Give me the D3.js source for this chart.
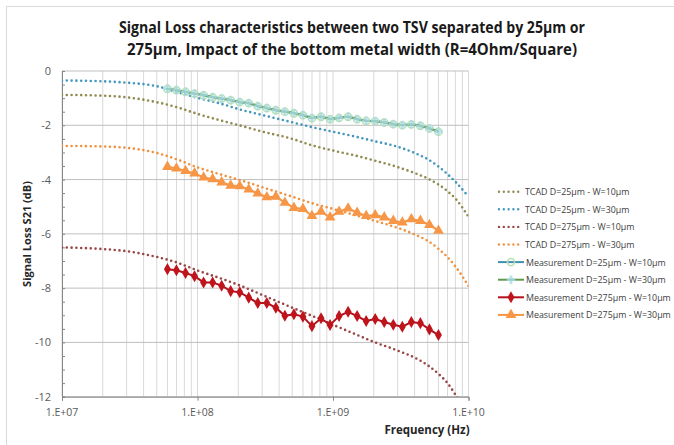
<!DOCTYPE html>
<html>
<head>
<meta charset="utf-8">
<script src="https://cdn.jsdelivr.net/npm/d3@7"></script>
<style>
  body { margin: 0; background: #fff; }
  text { font-family: "Open Sans", "Noto Sans", sans-serif; }
</style>
</head>
<body>
<svg id="chart"></svg>
<script>
// Frequencies (Hz) of the measured points
const freqMeas = [6.00e7, 6.99e7, 8.16e7, 9.51e7, 1.109e8, 1.293e8, 1.507e8, 1.757e8, 2.049e8, 2.389e8,
  2.785e8, 3.247e8, 3.786e8, 4.414e8, 5.146e8, 6.00e8, 6.99e8, 8.16e8, 9.51e8, 1.109e9,
  1.293e9, 1.507e9, 1.757e9, 2.049e9, 2.389e9, 2.785e9, 3.247e9, 3.786e9, 4.414e9, 5.146e9, 6.00e9];

const measD25W10 = [-0.66, -0.71, -0.77, -0.84, -0.90, -0.97, -1.02, -1.08, -1.15, -1.19,
  -1.30, -1.37, -1.45, -1.50, -1.56, -1.63, -1.74, -1.69, -1.78, -1.73,
  -1.69, -1.78, -1.84, -1.85, -1.90, -1.96, -2.00, -1.97, -2.02, -2.12, -2.24];
const measD25W30 = [-0.65, -0.70, -0.76, -0.83, -0.88, -0.96, -1.01, -1.07, -1.14, -1.18,
  -1.29, -1.36, -1.44, -1.49, -1.55, -1.62, -1.73, -1.68, -1.77, -1.72,
  -1.68, -1.77, -1.83, -1.84, -1.89, -1.95, -1.99, -1.96, -2.02, -2.11, -2.23];
const measD275W10 = [-7.30, -7.34, -7.44, -7.56, -7.79, -7.79, -7.91, -8.11, -8.15, -8.35,
  -8.55, -8.55, -8.72, -9.02, -8.96, -9.05, -9.40, -9.11, -9.36, -9.03,
  -8.87, -9.03, -9.21, -9.14, -9.25, -9.35, -9.42, -9.25, -9.29, -9.52, -9.73];
const measD275W30 = [-3.53, -3.59, -3.68, -3.77, -3.92, -3.98, -4.10, -4.22, -4.24, -4.36,
  -4.51, -4.65, -4.63, -4.85, -5.04, -5.08, -5.34, -5.18, -5.39, -5.18,
  -5.06, -5.22, -5.34, -5.31, -5.39, -5.52, -5.58, -5.46, -5.52, -5.67, -5.88];

// TCAD simulated curves
const freqTcad = [1e7, 2e7, 3e7, 5e7, 7e7, 1e8, 1.5e8, 2e8, 3e8, 5e8, 7e8,
  1e9, 1.5e9, 2e9, 3e9, 4e9, 5e9, 6e9, 7e9, 8e9, 1e10];
const tcadD25W10 = [-0.88, -0.91, -0.97, -1.15, -1.33, -1.58, -1.83, -1.99, -2.23, -2.50, -2.74,
  -2.93, -3.13, -3.29, -3.54, -3.76, -3.96, -4.18, -4.43, -4.70, -5.37];
const tcadD25W30 = [-0.35, -0.38, -0.43, -0.56, -0.77, -0.99, -1.21, -1.40, -1.62, -1.89, -2.07,
  -2.24, -2.43, -2.58, -2.79, -3.02, -3.25, -3.52, -3.80, -4.08, -4.63];
const tcadD275W10 = [-6.50, -6.56, -6.64, -6.85, -7.05, -7.35, -7.65, -7.88, -8.25, -8.72, -9.02,
  -9.35, -9.72, -9.98, -10.30, -10.56, -10.84, -11.16, -11.50, -11.92, -12.70];
const tcadD275W30 = [-2.76, -2.78, -2.83, -3.02, -3.25, -3.55, -3.82, -4.00, -4.28, -4.63, -4.87,
  -5.08, -5.33, -5.51, -5.78, -6.02, -6.26, -6.55, -6.86, -7.20, -7.92];

const yTicks = [0, -2, -4, -6, -8, -10, -12];
const xTicks = [1e7, 1e8, 1e9, 1e10];
const xTickLabels = ["1.E+07", "1.E+08", "1.E+09", "1.E+10"];

const width = 674, height = 445;
const svg = d3.select("#chart").attr("width", width).attr("height", height);

// chart frame
svg.append("rect")
    .attr("x", 6.5).attr("y", 6.5)
    .attr("width", 700).attr("height", 500)
    .attr("fill", "none").attr("stroke", "#d9d9d9");

const x = d3.scaleLog().domain([1e7, 1e10]).range([62, 468.5]);
const y = d3.scaleLinear().domain([-12, 0]).range([396.7, 71]);

// vertical grid, every 1..9 of each decade
const vGrid = [];
[1e7, 1e8, 1e9].forEach(d => { for (let k = 1; k < 10; k++) vGrid.push(d * k); });
vGrid.push(1e10);
svg.append("g").selectAll("line").data(vGrid).enter().append("line")
    .attr("x1", d => x(d)).attr("x2", d => x(d))
    .attr("y1", y(0)).attr("y2", y(-12))
    .attr("stroke", "#d9d9d9").attr("stroke-width", 1);

// horizontal grid
svg.append("g").selectAll("line").data(yTicks).enter().append("line")
    .attr("x1", x(1e7)).attr("x2", x(1e10))
    .attr("y1", d => y(d)).attr("y2", d => y(d))
    .attr("stroke", "#bfbfbf").attr("stroke-width", 1);

// axes
const yAxis = svg.append("g").attr("transform", `translate(${x(1e7)},0)`)
    .call(d3.axisLeft(y).tickValues(d3.range(-12, 0.01, 0.5)).tickSize(-3).tickFormat(""));
yAxis.select(".domain").attr("stroke", "#868686");
yAxis.selectAll(".tick line").attr("stroke", "#868686");

const xAxis = svg.append("g").attr("transform", `translate(0,${y(-12)})`)
    .call(d3.axisBottom(x).tickValues(xTicks).tickSize(4).tickFormat(""));
xAxis.select(".domain").attr("stroke", "#868686");
xAxis.selectAll(".tick line").attr("stroke", "#868686");

svg.append("g").selectAll("text").data(yTicks).enter().append("text")
    .attr("x", 51).attr("y", d => y(d) + 4)
    .attr("text-anchor", "end")
    .attr("font-size", 11).attr("fill", "#595959")
    .text(d => d === 0 ? "0" : "-" + Math.abs(d));

svg.append("g").selectAll("text").data(xTicks).enter().append("text")
    .attr("x", d => x(d)).attr("y", 416)
    .attr("text-anchor", "middle")
    .attr("font-size", 10.5).attr("fill", "#595959")
    .text((d, i) => xTickLabels[i]);

// axis titles
svg.append("text")
    .attr("x", 427).attr("y", 434)
    .attr("text-anchor", "middle")
    .attr("font-size", 11.5).attr("font-weight", "bold").attr("fill", "#262626")
    .text("Frequency (Hz)");

svg.append("text")
    .attr("transform", `translate(31,234) rotate(-90)`)
    .attr("text-anchor", "middle")
    .attr("font-size", 11).attr("font-weight", "bold").attr("fill", "#262626")
    .text("Signal Loss S21 (dB)");

// title
const titleLines = ["Signal Loss characteristics between two TSV separated by 25µm or",
  "275µm, Impact of the bottom metal width (R=4Ohm/Square)"];
const titleWidths = [466, 450];
svg.append("g").selectAll("text").data(titleLines).enter().append("text")
    .attr("x", 352).attr("y", (d, i) => 33 + i * 22)
    .attr("text-anchor", "middle")
    .attr("font-size", 15.5).attr("font-weight", "bold").attr("fill", "#1a1a1a")
    .attr("textLength", (d, i) => titleWidths[i])
    .attr("lengthAdjust", "spacingAndGlyphs")
    .text(d => d);

// clip to plot area
svg.append("clipPath").attr("id", "plot")
  .append("rect").attr("x", x(1e7)).attr("y", y(0))
    .attr("width", x(1e10) - x(1e7)).attr("height", y(-12) - y(0));

const tcadLine = d3.line()
    .x((d, i) => x(freqTcad[i]))
    .y(d => y(d))
    .curve(d3.curveMonotoneX);
const measLine = d3.line()
    .x((d, i) => x(freqMeas[i]))
    .y(d => y(d));

const tcad = [
  { name: "TCAD D=25µm - W=10µm", values: tcadD25W10, color: "#8f8b50" },
  { name: "TCAD D=25µm - W=30µm", values: tcadD25W30, color: "#4597bd" },
  { name: "TCAD D=275µm - W=10µm", values: tcadD275W10, color: "#9a4646" },
  { name: "TCAD D=275µm - W=30µm", values: tcadD275W30, color: "#f0913f" }
];
const meas = [
  { name: "Measurement D=25µm - W=10µm", values: measD25W10, color: "#3f8fb3", marker: "circle", mcolor: "#b9e2b0" },
  { name: "Measurement D=25µm - W=30µm", values: measD25W30, color: "#5e9a4a", marker: "cross", mcolor: "#a9dbe6" },
  { name: "Measurement D=275µm - W=10µm", values: measD275W10, color: "#b2121b", marker: "diamond", mcolor: "#c0141c" },
  { name: "Measurement D=275µm - W=30µm", values: measD275W30, color: "#f4953f", marker: "triangle", mcolor: "#f79646" }
];

const plot = svg.append("g").attr("clip-path", "url(#plot)");

tcad.forEach(s => {
  plot.append("path")
      .attr("d", tcadLine(s.values))
      .attr("fill", "none")
      .attr("stroke", s.color)
      .attr("stroke-width", 2.6)
      .attr("stroke-linecap", "round")
      .attr("stroke-dasharray", "0,4.8");
});

const symbolType = { circle: d3.symbolCircle, cross: d3.symbolCross, diamond: d3.symbolDiamond, triangle: d3.symbolTriangle };
const symbolSize = { circle: 40, cross: 40, diamond: 42, triangle: 50 };

function drawMarker(g, s, cx, cy) {
  const p = g.append("path")
      .attr("d", d3.symbol().type(symbolType[s.marker]).size(symbolSize[s.marker])())
      .attr("transform", `translate(${cx},${cy})`);
  if (s.marker === "circle") {
    p.attr("fill", "none").attr("stroke", s.mcolor).attr("stroke-width", 1.5);
  } else if (s.marker === "cross") {
    p.attr("fill", s.mcolor).attr("opacity", 0.8);
  } else {
    p.attr("fill", s.mcolor);
  }
}

meas.forEach(s => {
  plot.append("path")
      .attr("d", measLine(s.values))
      .attr("fill", "none")
      .attr("stroke", s.color)
      .attr("stroke-width", 2);
  const mg = plot.append("g");
  s.values.forEach((v, i) => drawMarker(mg, s, x(freqMeas[i]), y(v)));
});

// legend
const legend = svg.append("g");
const rowY = d3.range(8).map(i => 191.7 + i * 17.6);
tcad.forEach((s, i) => {
  legend.append("line")
      .attr("x1", 499).attr("x2", 523).attr("y1", rowY[i]).attr("y2", rowY[i])
      .attr("stroke", s.color).attr("stroke-width", 2.4)
      .attr("stroke-linecap", "round").attr("stroke-dasharray", "0,4.8");
});
meas.forEach((s, i) => {
  const yy = rowY[i + 4];
  legend.append("line")
      .attr("x1", 498).attr("x2", 524).attr("y1", yy).attr("y2", yy)
      .attr("stroke", s.color).attr("stroke-width", 2);
  drawMarker(legend, s, 511, yy);
});
const labels = legend.selectAll("text.lab")
    .data(tcad.concat(meas)).enter().append("text")
    .attr("class", "lab")
    .attr("x", (d, i) => i < 4 ? 525 : 526)
    .attr("y", (d, i) => rowY[i] + 3.5)
    .attr("font-size", 10).attr("fill", "#404040")
    .text(d => d.name);
// shrink the font so the longest label ends where it does in the original
const longest = d3.max(labels.nodes(), n => n.getComputedTextLength());
labels.attr("font-size", 10 * 145 / longest);
</script>
</body>
</html>
